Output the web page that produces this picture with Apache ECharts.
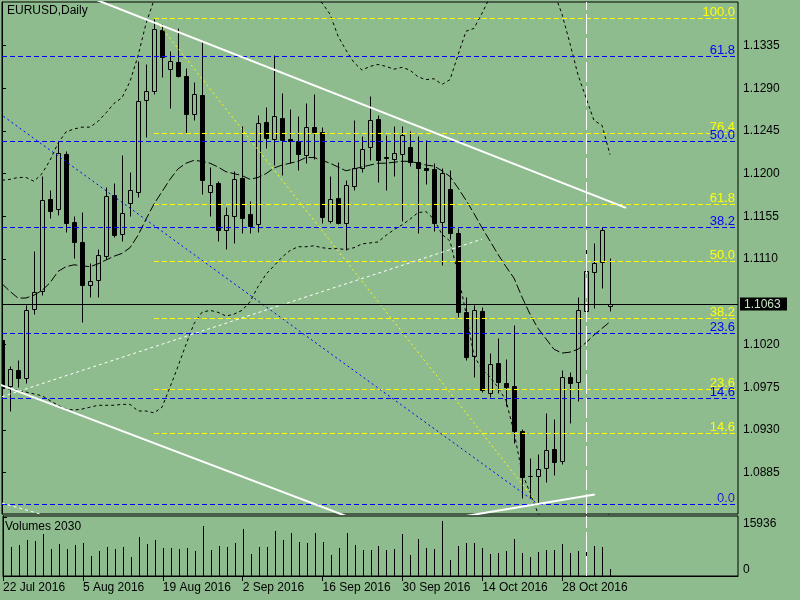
<!DOCTYPE html>
<html><head><meta charset="utf-8">
<script src="https://cdn.jsdelivr.net/npm/echarts@6/dist/echarts.min.js"></script>
<style>html,body{margin:0;padding:0;background:#8fbc8f}#c{width:800px;height:600px}</style>
</head><body><div id="c"></div><script>
const symbolTitle = 'EURUSD,Daily';
const tickIndex = [0,10,20,30,40,50,60,70];
const tickLabels = ['22 Jul 2016','5 Aug 2016','19 Aug 2016','2 Sep 2016','16 Sep 2016','30 Sep 2016','14 Oct 2016','28 Oct 2016'];
const priceTicks = [1.0885,1.0930,1.0975,1.1020,1.1110,1.1155,1.1200,1.1245,1.1290,1.1335];
const volumeTicks = [0,15936];
const bidPrice = 1.1063;

const opens = [1.1025,1.0976,1.0993,1.0985,1.1057,1.1076,1.1173,1.1163,1.1221,1.1149,
1.1128,1.1083,1.1088,1.1113,1.1177,1.1136,1.1169,1.1181,1.1278,1.1287,
1.1351,1.1310,1.1318,1.1303,1.1263,1.1283,1.1181,1.1190,1.1141,1.1155,
1.1195,1.1158,1.1147,1.1254,1.1237,1.1259,1.1237,1.1234,1.1220,1.1249,
1.1244,1.1150,1.1174,1.1148,1.1187,1.1206,1.1228,1.1258,1.1218,1.1215,
1.1221,1.1228,1.1212,1.1206,1.1205,1.1149,1.1184,1.1138,1.1054,1.1008,
1.1055,1.0969,1.1001,1.0980,1.0976,1.0929,1.0882,1.0881,1.0890,1.0910,
1.0897,1.0986,1.0981,1.1055,1.1096,1.1107,1.1061];
const highs = [1.1037,1.0997,1.1004,1.1062,1.1119,1.1197,1.1183,1.1234,1.1224,1.1155,
1.1160,1.1106,1.1121,1.1186,1.1190,1.1220,1.1202,1.1319,1.1315,1.1364,
1.1358,1.1329,1.1353,1.1311,1.1297,1.1339,1.1207,1.1192,1.1165,1.1203,
1.1250,1.1171,1.1262,1.1270,1.1325,1.1285,1.1268,1.1261,1.1274,1.1284,
1.1249,1.1197,1.1212,1.1193,1.1256,1.1240,1.1282,1.1262,1.1241,1.1250,
1.1250,1.1245,1.1240,1.1235,1.1211,1.1206,1.1204,1.1143,1.1070,1.1062,
1.1060,1.1011,1.1027,1.1005,1.1041,1.0931,1.0900,1.0905,1.0948,1.0942,
1.0993,1.0991,1.1070,1.1124,1.1127,1.1144,1.1111];
const lows = [1.0955,1.0950,1.0975,1.0979,1.1052,1.1072,1.1153,1.1156,1.1139,1.1111,
1.1044,1.1070,1.1070,1.1110,1.1133,1.1129,1.1155,1.1175,1.1239,1.1284,
1.1302,1.1269,1.1302,1.1243,1.1257,1.1179,1.1155,1.1129,1.1121,1.1127,
1.1137,1.1138,1.1139,1.1227,1.1209,1.1199,1.1211,1.1204,1.1211,1.1215,
1.1148,1.1148,1.1147,1.1120,1.1183,1.1202,1.1214,1.1191,1.1183,1.1197,
1.1150,1.1208,1.1138,1.1189,1.1140,1.1104,1.1131,1.1049,1.1004,1.0986,
1.0970,1.0965,1.0969,1.0955,1.0916,1.0858,1.0858,1.0852,1.0875,1.0883,
1.0894,1.0937,1.0961,1.1051,1.1059,1.1080,1.1055];
const closes = [1.0977,1.0994,1.0985,1.1056,1.1075,1.1172,1.1161,1.1222,1.1148,1.1128,
1.1083,1.1087,1.1114,1.1176,1.1135,1.1159,1.1183,1.1277,1.1287,1.1352,
1.1323,1.1319,1.1303,1.1263,1.1284,1.1193,1.1188,1.1141,1.1156,1.1194,
1.1153,1.1145,1.1253,1.1238,1.1261,1.1235,1.1234,1.1221,1.1249,1.1244,
1.1154,1.1173,1.1148,1.1188,1.1206,1.1226,1.1257,1.1214,1.1216,1.1222,
1.1241,1.1212,1.1206,1.1204,1.1148,1.1201,1.1138,1.1054,1.1007,1.1056,
1.0972,1.0999,1.0981,1.0975,1.0929,1.0880,1.0881,1.0889,1.0909,1.0896,
1.0986,1.0980,1.1056,1.1097,1.1106,1.1141,1.1063];
const volumes = [15936,7780,8520,9890,9620,11270,7420,8790,7420,8520,
9070,5500,6870,7970,7420,7970,5220,10720,8790,9890,
7690,7690,7420,7690,6870,13470,7150,8240,7970,9070,
12640,6050,7970,7970,12090,9890,11730,9340,8990,11730,
9340,5770,7690,11730,8520,7150,7150,8240,7150,7420,
11270,5770,10170,7690,7420,14840,4400,8240,9070,9070,
7690,6050,6320,6870,10170,6320,5220,6600,7150,7150,
8790,6320,6870,9890,8240,7970,2030];
const bandUpper = [1.1193,1.1194,1.1196,1.1196,1.1192,1.1200,1.1214,1.1232,1.1244,1.1247,
1.1249,1.1249,1.1255,1.1264,1.1274,1.1280,1.1297,1.1324,1.1358,1.1383,
1.1399,1.1409,1.1417,1.1421,1.1423,1.1423,1.1421,1.1419,1.1417,1.1415,
1.1412,1.1410,1.1408,1.1406,1.1404,1.1401,1.1397,1.1392,1.1388,1.1384,
1.1380,1.1368,1.1345,1.1330,1.1317,1.1309,1.1313,1.1315,1.1313,1.1310,
1.1312,1.1309,1.1302,1.1299,1.1300,1.1294,1.1299,1.1325,1.1350,1.1353,
1.1369,1.1386,1.1398,1.1406,1.1415,1.1421,1.1423,1.1420,1.1409,1.1391,
1.1368,1.1337,1.1304,1.1280,1.1256,1.1251,1.1220];
const bandMiddle = [1.1084,1.1076,1.1069,1.1069,1.1072,1.1077,1.1085,1.1097,1.1102,1.1104,
1.1103,1.1102,1.1105,1.1109,1.1113,1.1116,1.1122,1.1135,1.1152,1.1168,
1.1181,1.1194,1.1205,1.1211,1.1214,1.1213,1.1211,1.1207,1.1202,1.1200,
1.1198,1.1194,1.1196,1.1200,1.1206,1.1209,1.1211,1.1213,1.1217,1.1217,
1.1214,1.1211,1.1207,1.1203,1.1205,1.1207,1.1209,1.1211,1.1211,1.1212,
1.1213,1.1213,1.1211,1.1209,1.1208,1.1203,1.1197,1.1185,1.1172,1.1158,
1.1143,1.1129,1.1115,1.1102,1.1090,1.1070,1.1052,1.1037,1.1026,1.1015,
1.1011,1.1012,1.1015,1.1022,1.1030,1.1037,1.1044];
const bandLower = [1.0974,1.0973,1.0972,1.0970,1.0968,1.0966,1.0961,1.0956,1.0952,1.0951,
1.0952,1.0954,1.0956,1.0956,1.0956,1.0957,1.0957,1.0950,1.0950,1.0948,
1.0954,1.0975,1.0997,1.1020,1.1042,1.1054,1.1056,1.1054,1.1050,1.1052,
1.1056,1.1065,1.1081,1.1094,1.1103,1.1112,1.1119,1.1123,1.1123,1.1124,
1.1122,1.1121,1.1121,1.1120,1.1122,1.1126,1.1127,1.1128,1.1135,1.1141,
1.1146,1.1152,1.1159,1.1160,1.1152,1.1136,1.1129,1.1094,1.1053,1.1008,
1.0994,1.0986,1.0975,1.0961,1.0928,1.0885,1.0864,1.0842,1.0833,1.0825,
1.0819,1.0817,1.0818,1.0823,1.0829,1.0836,1.0842];

// Fibonacci objects: anchor [barIndex, price] for 100 and 0 levels
const yellowFibAnchors = [[19, 1.1364], [67, 1.0852]];
const yellowFibLevels = [0, 14.6, 23.6, 38.2, 50.0, 61.8, 76.4, 100.0];
const blueFibAnchors = [[-58, 1.1616], [67, 1.0852]];
const blueFibLevels = [0, 14.6, 23.6, 38.2, 50.0, 61.8];

// Trend lines [barIndex, price]
const upperTrend = [[10, 1.1389], [78, 1.1164]];
const lowerTrend = [[-5, 1.0993], [50, 1.0817]];
const bottomTrend = [[57, 1.0838], [74.1, 1.0862]];
const dottedWhiteA = [[0, 1.0965], [60, 1.1131]];
const dottedWhiteB = [[0, 1.0853], [5, 1.0841]];
const vLineIndex = 73;

const BG = '#8fbc8f';
const FONT = 'Liberation Sans';
const X_MAX = 92;

const chart = echarts.init(document.getElementById('c'), null, {renderer: 'canvas'});

function renderCandle(params, api) {
  const i = api.value(0), o = api.value(1), h = api.value(2), l = api.value(3), c = api.value(4);
  const pO = api.coord([i, o]), pC = api.coord([i, c]), pH = api.coord([i, h]), pL = api.coord([i, l]);
  const cx = Math.round(pO[0]) + 0.5;
  const top = Math.round(Math.min(pO[1], pC[1])) + 0.5;
  const bot = Math.round(Math.max(pO[1], pC[1])) + 0.5;
  const bull = c >= o;
  return {type: 'group', children: [
    {type: 'line', shape: {x1: cx, y1: Math.round(pH[1]) + 0.5, x2: cx, y2: Math.round(pL[1]) + 0.5}, style: {stroke: '#000', lineWidth: 1}},
    {type: 'rect', shape: {x: cx - 2, y: top, width: 4, height: Math.max(bot - top, 0)}, style: {fill: bull ? BG : '#000', stroke: '#000', lineWidth: 1}}
  ]};
}

function renderVolume(params, api) {
  const i = api.value(0), v = api.value(1);
  const a = api.coord([i, 0]), b = api.coord([i, v]);
  const x = Math.round(a[0]) + 0.5;
  return {type: 'line', shape: {x1: x, y1: a[1], x2: x, y2: Math.round(b[1])}, style: {stroke: '#000', lineWidth: 1}};
}

const fibData = [];
function addFib(anchors, levels, blue) {
  const hi = anchors[0][1], lo = anchors[1][1];
  levels.forEach(lv => fibData.push([anchors[0][0], lo + (hi - lo) * lv / 100, blue, lv]));
}
addFib(yellowFibAnchors, yellowFibLevels, 0);
addFib(blueFibAnchors, blueFibLevels, 1);

function renderFib(params, api) {
  const x0 = api.value(0), price = api.value(1), blue = api.value(2), lv = api.value(3);
  const a = api.coord([x0, price]), b = api.coord([X_MAX, price]);
  const y = Math.round(a[1]) + 0.5;
  const color = blue ? '#0000ff' : '#ffff00';
  return {type: 'group', children: [
    {type: 'line', shape: {x1: Math.max(a[0], params.coordSys.x), y1: y, x2: b[0], y2: y}, style: {stroke: color, lineWidth: 1, lineDash: [5, 3]}},
    {type: 'text', style: {text: lv.toFixed(1), x: b[0] - 3, y: y, fill: color, font: '13px "' + FONT + '"', align: 'right', verticalAlign: 'bottom'}}
  ]};
}

function renderBid(params, api) {
  const p = api.value(1);
  const a = api.coord([0, p]), b = api.coord([X_MAX, p]);
  const y = Math.round(a[1]) + 0.5;
  return {type: 'group', children: [
    {type: 'line', shape: {x1: a[0], y1: y, x2: b[0], y2: y}, style: {stroke: '#000', lineWidth: 1}},
    {type: 'rect', shape: {x: b[0] + 2, y: y - 7, width: 47, height: 13}, style: {fill: '#000'}},
    {type: 'text', style: {text: p.toFixed(4), x: b[0] + 6, y: y, fill: '#c8e4c8', font: '12px "' + FONT + '"', align: 'left', verticalAlign: 'middle'}}
  ]};
}

function lineSeries(data, color, width, type, z) {
  return {type: 'line', xAxisIndex: 0, yAxisIndex: 0, data: data, showSymbol: false, symbol: 'none', silent: true, clip: true, z: z,
    lineStyle: {color: color, width: width, type: type}};
}

const axisText = {color: '#000', fontFamily: FONT, fontSize: 12};

const bandUpperSeries = lineSeries(bandUpper.map((v, i) => [i, v]), '#000', 1, [3, 3], 3);
bandUpperSeries.markLine = {symbol: ['none', 'none'], silent: true, animation: false, label: {show: false},
  lineStyle: {color: '#fff', width: 1, type: [20, 4]}, data: [{xAxis: vLineIndex}]};

const option = {
  backgroundColor: BG,
  animation: false,
  title: [
    {text: symbolTitle, left: 7, top: 5, padding: 0, textStyle: {fontSize: 12, fontWeight: 'normal', fontFamily: FONT, color: '#000'}},
    {text: 'Volumes ' + volumes[volumes.length - 1], left: 5, top: 521, padding: 0, textStyle: {fontSize: 12, fontWeight: 'normal', fontFamily: FONT, color: '#000'}}
  ],
  grid: [
    {left: 2, right: 62, top: 2, height: 512, show: true, borderColor: '#000', borderWidth: 1, backgroundColor: 'transparent'},
    {left: 2, right: 62, top: 516, height: 60, show: true, borderColor: '#000', borderWidth: 1, backgroundColor: 'transparent'}
  ],
  xAxis: [
    {type: 'value', gridIndex: 0, min: 0, max: X_MAX, show: false},
    {type: 'value', gridIndex: 1, min: 0, max: X_MAX, splitLine: {show: false},
      axisLine: {show: true, lineStyle: {color: '#000'}},
      axisTick: {show: true, customValues: tickIndex, length: 5, lineStyle: {color: '#000'}},
      axisLabel: Object.assign({customValues: tickIndex, formatter: v => tickLabels[tickIndex.indexOf(v)], align: 'left', margin: 6}, axisText)}
  ],
  yAxis: [
    {type: 'value', gridIndex: 0, position: 'right', min: 1.08415, max: 1.13808, splitLine: {show: false},
      axisLine: {show: true, lineStyle: {color: '#000'}},
      axisTick: {show: true, customValues: priceTicks, length: 4, lineStyle: {color: '#000'}},
      axisLabel: Object.assign({customValues: priceTicks, formatter: v => v.toFixed(4), margin: 5}, axisText)},
    {type: 'value', gridIndex: 1, position: 'right', min: 0, max: 16290, splitLine: {show: false},
      axisLine: {show: true, lineStyle: {color: '#000'}},
      axisTick: {show: true, customValues: volumeTicks, length: 4, lineStyle: {color: '#000'}},
      axisLabel: Object.assign({customValues: volumeTicks, margin: 5,
        formatter: v => (v > 0 ? '{t|' + v + '}' : '{b|' + v + '}'),
        rich: {t: {padding: [13, 0, 0, 0], color: '#000', fontFamily: FONT, fontSize: 12},
               b: {padding: [0, 0, 12, 0], color: '#000', fontFamily: FONT, fontSize: 12}}}, axisText)}
  ],
  series: [
    {type: 'custom', xAxisIndex: 0, yAxisIndex: 0, renderItem: renderCandle, clip: true, z: 2, silent: true,
      data: opens.map((o, i) => [i, o, highs[i], lows[i], closes[i]])},
    bandUpperSeries,
    lineSeries(bandMiddle.map((v, i) => [i, v]), '#000', 1, [9, 3], 3),
    lineSeries(bandLower.map((v, i) => [i, v]), '#000', 1, [3, 3], 3),
    {type: 'custom', xAxisIndex: 0, yAxisIndex: 0, renderItem: renderFib, clip: true, z: 4, silent: true, data: fibData},
    lineSeries([yellowFibAnchors[0], yellowFibAnchors[1]], '#ffff00', 1, [2, 3], 5),
    lineSeries([blueFibAnchors[0], blueFibAnchors[1]], '#0000ff', 1, [2, 3], 5),
    lineSeries(dottedWhiteA, '#ffffff', 1, [3, 3], 5),
    lineSeries(dottedWhiteB, '#ffffff', 1, [3, 3], 5),
    lineSeries(upperTrend, '#ffffff', 2, 'solid', 6),
    lineSeries(lowerTrend, '#ffffff', 2, 'solid', 6),
    lineSeries(bottomTrend, '#ffffff', 2, 'solid', 6),
    {type: 'custom', xAxisIndex: 0, yAxisIndex: 0, renderItem: renderBid, clip: false, z: 7, silent: true, data: [[X_MAX, bidPrice]]},
    {type: 'custom', xAxisIndex: 1, yAxisIndex: 1, renderItem: renderVolume, clip: true, z: 2, silent: true,
      data: volumes.map((v, i) => [i, v]),
      markLine: {symbol: ['none', 'none'], silent: true, animation: false, label: {show: false},
        lineStyle: {color: '#fff', width: 1, type: [20, 4]}, data: [{xAxis: vLineIndex}]}}
  ]
};
chart.setOption(option);
</script></body></html>
